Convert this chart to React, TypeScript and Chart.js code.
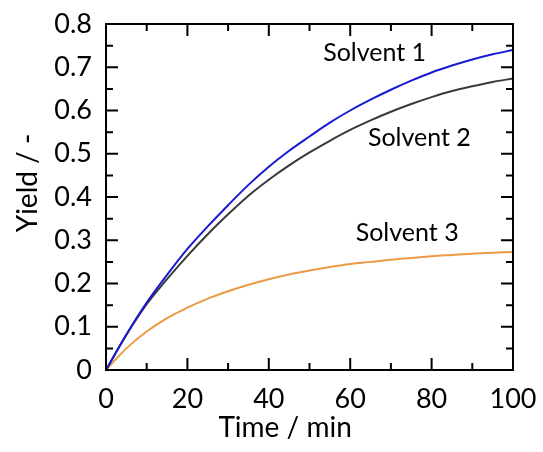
import React, { useEffect, useRef } from "react";
import { Chart, registerables } from "chart.js";

Chart.register(...registerables);

// ---- data ----
const times = [0, 5, 10, 15, 20, 25, 30, 35, 40, 45, 50, 55, 60, 65, 70, 75, 80, 85, 90, 95, 100];
const solvent1 = [0, 0.082, 0.156, 0.22, 0.28, 0.332, 0.381, 0.428, 0.47, 0.507, 0.54, 0.572, 0.6, 0.625, 0.648, 0.669, 0.688, 0.704, 0.718, 0.73, 0.74];
const solvent2 = [0, 0.081, 0.152, 0.21, 0.264, 0.314, 0.36, 0.403, 0.44, 0.473, 0.503, 0.53, 0.555, 0.577, 0.597, 0.615, 0.631, 0.645, 0.656, 0.666, 0.674];
const solvent3 = [0, 0.05, 0.089, 0.12, 0.144, 0.165, 0.182, 0.197, 0.21, 0.221, 0.23, 0.238, 0.245, 0.25, 0.255, 0.259, 0.263, 0.266, 0.269, 0.271, 0.273];
const seriesNames = ["Solvent 1", "Solvent 2", "Solvent 3"];
const xTickValues = [0, 20, 40, 60, 80, 100];
const yTickValues = [0, 0.1, 0.2, 0.3, 0.4, 0.5, 0.6, 0.7, 0.8];
const xTitle = "Time / min";
const yTitle = "Yield / -";
// label anchor points in data coordinates (time, yield)
const labelTimes = [66, 77, 74];
const labelYields = [0.733, 0.536, 0.317];

const FONT = "Lato, 'Open Sans', sans-serif";
const colors = ["#1a1ad6", "#3a3a3a", "#ec9a45"];

const framePlugin = {
  id: "frameTicks",
  afterDatasetsDraw(chart: any) {
    const { ctx, chartArea } = chart;
    const xs = chart.scales.x;
    const ys = chart.scales.y;
    const { left, right, top, bottom } = chartArea;
    ctx.save();
    ctx.strokeStyle = "#000";
    ctx.lineWidth = 2;
    ctx.lineCap = "butt";
    ctx.strokeRect(left, top, right - left, bottom - top);
    const major = 12;
    const minor = 7;
    ctx.beginPath();
    for (let v = 0; v <= 100.001; v += 10) {
      const px = xs.getPixelForValue(v);
      const len = Math.round(v) % 20 === 0 ? major : minor;
      if (v > 0.001 && v < 99.999) {
        ctx.moveTo(px, bottom);
        ctx.lineTo(px, bottom - len);
        ctx.moveTo(px, top);
        ctx.lineTo(px, top + len);
      }
    }
    for (let i = 1; i < 16; i++) {
      const v = i * 0.05;
      const py = ys.getPixelForValue(v);
      const len = i % 2 === 0 ? major : minor;
      ctx.moveTo(left, py);
      ctx.lineTo(left + len, py);
      ctx.moveTo(right, py);
      ctx.lineTo(right - len, py);
    }
    ctx.stroke();

    // series labels
    ctx.fillStyle = "#000";
    ctx.font = `25px ${FONT}`;
    ctx.textAlign = "center";
    ctx.textBaseline = "middle";
    seriesNames.forEach((name, i) => {
      ctx.fillText(name, xs.getPixelForValue(labelTimes[i]), ys.getPixelForValue(labelYields[i]));
    });

    // axis titles
    ctx.font = `28px ${FONT}`;
    ctx.fillText(xTitle, left + (right - left) * 0.44, 428);
    ctx.save();
    ctx.translate(28, 183);
    ctx.rotate(-Math.PI / 2);
    ctx.fillText(yTitle, 0, 0);
    ctx.restore();
    ctx.restore();
  },
};

export default function App() {
  const ref = useRef<HTMLCanvasElement>(null);
  useEffect(() => {
    document.body.style.margin = "0";
    const canvas = ref.current!;
    const chart = new Chart(canvas, {
      type: "line",
      data: {
        labels: times,
        datasets: [solvent1, solvent2, solvent3].map((d, i) => ({
          label: seriesNames[i],
          data: times.map((t, j) => ({ x: t, y: d[j] })),
          borderColor: colors[i],
          backgroundColor: colors[i],
          borderWidth: 2,
          pointRadius: 0,
          cubicInterpolationMode: "monotone" as const,
          fill: false,
        })),
      },
      options: {
        animation: false,
        responsive: false,
        devicePixelRatio: 1,
        layout: { padding: { top: 24, right: 30, left: 0, bottom: 0 } },
        plugins: { legend: { display: false }, tooltip: { enabled: false } },
        scales: {
          x: {
            type: "linear",
            min: 0,
            max: 100,
            afterFit: (s: any) => {
              s.height = 82;
              s.paddingLeft = 0;
              s.paddingRight = 0;
            },
            afterBuildTicks: (s: any) => {
              s.ticks = xTickValues.map((v) => ({ value: v }));
            },
            grid: { display: false, drawTicks: false },
            border: { display: false },
            ticks: {
              color: "#000",
              padding: 13,
              font: { family: FONT, size: 27 },
              callback: (v: any) => String(v),
              maxRotation: 0,
            },
          },
          y: {
            type: "linear",
            min: 0,
            max: 0.8,
            afterFit: (s: any) => {
              s.width = 106;
              s.paddingTop = 0;
              s.paddingBottom = 0;
            },
            afterBuildTicks: (s: any) => {
              s.ticks = yTickValues.map((v) => ({ value: v }));
            },
            grid: { display: false, drawTicks: false },
            border: { display: false },
            ticks: {
              color: "#000",
              padding: 14,
              font: { family: FONT, size: 27 },
              callback: (v: any) => (Number(v) === 0 ? "0" : Number(v).toFixed(1)),
            },
          },
        },
      },
      plugins: [framePlugin],
    });
    return () => chart.destroy();
  }, []);
  return (
    <div style={{ position: "absolute", left: 0, top: 0, width: 543, height: 452, background: "#fff" }}>
      <canvas ref={ref} width={543} height={452} style={{ width: 543, height: 452 }} />
    </div>
  );
}
